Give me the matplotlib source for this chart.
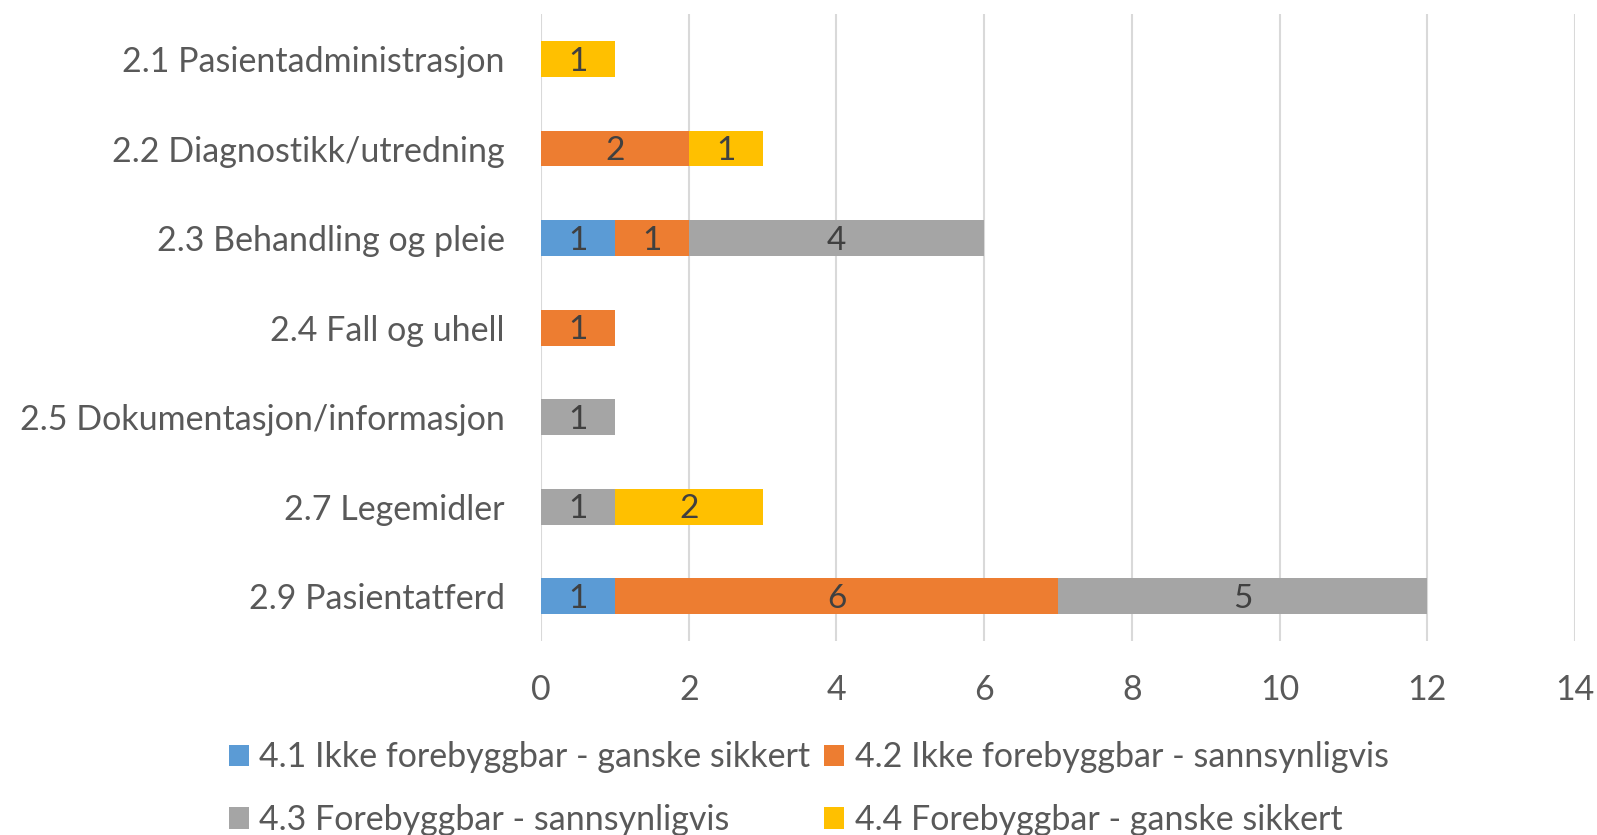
import matplotlib.pyplot as plt
import numpy as np

plt.rcParams['font.family'] = ['Lato', 'DejaVu Sans']

categories = ['2.1 Pasientadministrasjon', '2.2 Diagnostikk/utredning', '2.3 Behandling og pleie',
              '2.4 Fall og uhell', '2.5 Dokumentasjon/informasjon', '2.7 Legemidler', '2.9 Pasientatferd']
series = ['4.1 Ikke forebyggbar - ganske sikkert', '4.2 Ikke forebyggbar - sannsynligvis',
          '4.3 Forebyggbar - sannsynligvis', '4.4 Forebyggbar - ganske sikkert']
s41 = [0, 0, 1, 0, 0, 0, 1]
s42 = [0, 2, 1, 1, 0, 0, 6]
s43 = [0, 0, 4, 0, 1, 1, 5]
s44 = [1, 1, 0, 0, 0, 2, 0]
colors = ['#5B9BD5', '#ED7D31', '#A5A5A5', '#FFC000']

fig = plt.figure(figsize=(15.97, 8.35), dpi=100)
ax = fig.add_axes([0.3388, 0.2323, 0.6474, 0.7507])

y = np.arange(len(categories))
left = np.zeros(len(categories))
handles = []
for vals, name, c in zip([s41, s42, s43, s44], series, colors):
    vals = np.array(vals, dtype=float)
    bars = ax.barh(y, vals, left=left, height=0.4, color=c, label=name, zorder=2)
    handles.append(bars)
    for yi, v, l in zip(y, vals, left):
        if v > 0:
            ax.text(l + v / 2, yi + 0.03, str(int(v)), ha='center', va='center',
                    fontsize=24, color='#404040', zorder=3)
    left += vals

ax.set_xlim(0, 14)
ax.set_ylim(len(categories) - 0.5, -0.5)
ax.set_xticks(range(0, 15, 2))
ax.set_yticks(y)
ax.set_yticklabels(categories)
ax.tick_params(axis='both', length=0, labelsize=24.5, labelcolor='#595959')
ax.tick_params(axis='y', pad=26)
ax.tick_params(axis='x', pad=24)
ax.grid(axis='x', color='#D9D9D9', linewidth=1.5, zorder=0)
for s in ax.spines.values():
    s.set_visible(False)

# legend fills column-wise, so reorder to get row-wise order
order = [0, 2, 1, 3]
fig.legend(handles=[handles[i] for i in order], labels=[series[i] for i in order],
           loc='lower left', bbox_to_anchor=(0.124, -0.038),
           ncol=2, frameon=False, fontsize=24.5, labelcolor='#595959',
           handlelength=0.6, handleheight=0.6, handletextpad=0.3, columnspacing=0.4,
           labelspacing=0.9)

fig.savefig('out.png', dpi=100)
